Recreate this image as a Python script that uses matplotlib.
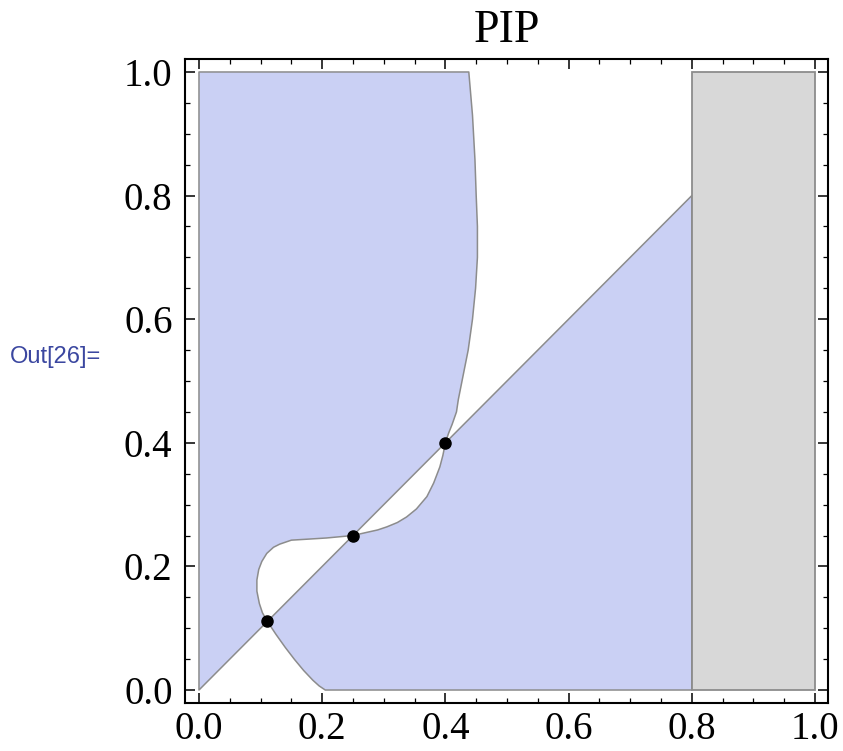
import numpy as np
import matplotlib
matplotlib.use("Agg")
import matplotlib.pyplot as plt
from matplotlib.patches import Polygon, Rectangle
from matplotlib.ticker import MultipleLocator, FormatStrFormatter

# boundary curve of the invasion region (x as a function of y)
curve_y = [0.0, 0.0067, 0.0157, 0.0315, 0.0495, 0.069, 0.090, 0.111,
           0.125, 0.14, 0.16, 0.178, 0.195, 0.208, 0.221, 0.231, 0.236, 0.2425,
           0.244, 0.246, 0.25,
           0.255, 0.259, 0.264, 0.271, 0.28, 0.293, 0.313, 0.335, 0.361, 0.38,
           0.40, 0.415, 0.43, 0.45, 0.47, 0.50, 0.55, 0.60, 0.65, 0.70, 0.75,
           0.8, 0.858, 0.93, 1.0]
curve_x = [0.205, 0.195, 0.185, 0.17, 0.155, 0.14, 0.125, 0.111,
           0.103, 0.098, 0.094, 0.094, 0.097, 0.102, 0.110, 0.121, 0.131, 0.150,
           0.175, 0.207, 0.25,
           0.272, 0.29, 0.305, 0.322, 0.337, 0.353, 0.370, 0.381, 0.391, 0.396,
           0.40, 0.405, 0.411, 0.418, 0.421, 0.427, 0.437, 0.444, 0.449, 0.452,
           0.452, 0.450, 0.448, 0.444, 0.438]

# singular strategies on the diagonal
sing_x = [0.111, 0.25, 0.40]
sing_y = [0.111, 0.25, 0.40]

# grey excluded band
excl_lo, excl_hi = 0.8, 1.0

blue = "#cad0f4"
grey_fill = "#d8d8d8"
edge = "#8c8c8c"

cx = np.array(curve_x)
cy = np.array(curve_y)


def seg(lo, hi):
    # curve points between lo and hi, walked downward in y
    m = (cy >= lo) & (cy <= hi)
    return list(zip(cx[m][::-1], cy[m][::-1]))


s1, s2, s3 = sing_y

# upper-left blue piece
upper = [(0, 0), (0, 1)] + seg(s3, 1.0) + seg(s1, s2) + [(0, 0)]
# lower-right blue piece
lower = ([(cx[0], 0), (excl_lo, 0), (excl_lo, excl_lo)] + seg(s2, s3)
         + seg(0, s1))

fig = plt.figure(figsize=(8.43, 7.51), dpi=100)
ax = fig.add_axes([185 / 843, 48 / 751, 643 / 843, 644 / 751])

for pts in (upper, lower):
    ax.add_patch(Polygon(pts, closed=True, facecolor=blue, edgecolor=edge,
                         linewidth=1.1, joinstyle="round", zorder=2))

ax.add_patch(Rectangle((excl_lo, 0), excl_hi - excl_lo, 1, facecolor=grey_fill,
                       edgecolor=edge, linewidth=1.3, zorder=2))

ax.plot(sing_x, sing_y, "o", color="black", markersize=8, zorder=4)

ax.set_xlim(-0.0227, 1.0211)
ax.set_ylim(-0.021, 1.021)

serif = ["Liberation Serif", "DejaVu Serif"]
ax.xaxis.set_major_locator(MultipleLocator(0.2))
ax.yaxis.set_major_locator(MultipleLocator(0.2))
ax.xaxis.set_minor_locator(MultipleLocator(0.05))
ax.yaxis.set_minor_locator(MultipleLocator(0.05))
ax.xaxis.set_major_formatter(FormatStrFormatter("%.1f"))
ax.yaxis.set_major_formatter(FormatStrFormatter("%.1f"))
ax.tick_params(which="both", direction="in", top=True, right=True, colors="black")
ax.tick_params(which="major", length=7, width=1.1, labelsize=28, pad=6)
ax.tick_params(which="minor", length=3.5, width=0.9)
ax.tick_params(axis="y", which="major", pad=9)
for lab in ax.get_xticklabels() + ax.get_yticklabels():
    lab.set_family(serif)
for sp in ax.spines.values():
    sp.set_linewidth(1.5)

ax.set_title("PIP", fontsize=33, family=serif, pad=12)

fig.text(10 / 843, 1 - 357 / 751, "Out[26]=", color="#3b47a0", fontsize=17,
         family=["Liberation Sans", "DejaVu Sans"], va="center", ha="left")

fig.savefig("out.png", dpi=100)
